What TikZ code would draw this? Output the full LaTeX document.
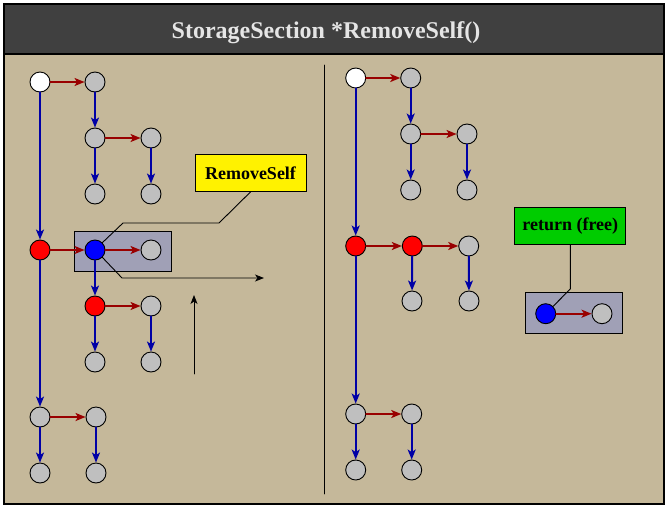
\documentclass[tikz,border=0pt]{standalone}
\usepackage{fontspec}
\setmainfont{Liberation Serif}
\usepackage{tikz}
\usetikzlibrary{arrows.meta}
\usepackage{xcolor}
\definecolor{sand}{RGB}{197,184,154}
\definecolor{slate}{RGB}{64,64,64}
\definecolor{lilac}{RGB}{160,160,182}

\begin{document}
\begin{tikzpicture}[x=1pt,y=-1pt,line cap=round,
  cell/.style={circle,draw,line width=0.9pt,fill=lightgray,minimum size=20pt,inner sep=0pt},
  ptr/.style={line width=2pt,-{Stealth[length=10pt,width=8pt,inset=2.5pt]}},
  nxt/.style={ptr,red!60!black},
  dwn/.style={ptr,blue!65!black},
  tag/.style={draw,line width=0.9pt,minimum width=111pt,minimum height=37pt,inner sep=0pt,font=\bfseries\fontsize{18}{20}\selectfont},
  hbox/.style={draw,line width=0.9pt,fill=lilac}]
\useasboundingbox (0,0) rectangle (669,509);
\fill[sand] (4,54) rectangle (664,504);
\fill[slate] (4,4) rectangle (664,54);
\draw[line width=1.3pt] (4,4) rectangle (664,504);
\draw[line width=1.3pt] (4,54) -- (664,54);
\node[text=white!90!black,font=\bfseries\fontsize{24}{28}\selectfont] (title) at (326,33) {StorageSection *RemoveSelf()};
\draw[line width=0.9pt] (324,65) -- (324,494);
\draw[hbox] (74,231) rectangle (171,271);
\draw[hbox] (525,292) rectangle (622,333);
% left
\node[cell,fill=white] (l0) at (40,82) {};
\node[cell] (l1) at (95,82) {};
\node[cell] (l2) at (95,138) {};
\node[cell] (l3) at (151,138) {};
\node[cell] (l4) at (95,194) {};
\node[cell] (l5) at (151,194) {};
\node[cell,fill=red] (l6) at (40,250) {};
\node[cell,fill=blue] (l7) at (95,250) {};
\node[cell] (l8) at (151,250) {};
\node[cell,fill=red] (l9) at (95,306) {};
\node[cell] (l10) at (151,306) {};
\node[cell] (l11) at (95,362) {};
\node[cell] (l12) at (151,362) {};
\node[cell] (l13) at (40,417) {};
\node[cell] (l14) at (96,417) {};
\node[cell] (l15) at (40,473) {};
\node[cell] (l16) at (96,473) {};
\draw[nxt] (l0) -- (l1);
\draw[nxt] (l2) -- (l3);
\draw[nxt] (l6) -- (l7);
\draw[nxt] (l7) -- (l8);
\draw[nxt] (l9) -- (l10);
\draw[nxt] (l13) -- (l14);
\draw[dwn] (l0) -- (l6);
\draw[dwn] (l6) -- (l13);
\draw[dwn] (l13) -- (l15);
\draw[dwn] (l1) -- (l2);
\draw[dwn] (l2) -- (l4);
\draw[dwn] (l3) -- (l5);
\draw[dwn] (l7) -- (l9);
\draw[dwn] (l9) -- (l11);
\draw[dwn] (l10) -- (l12);
\draw[dwn] (l14) -- (l16);
\node[tag,fill=yellow] (rs) at (250.5,173) {RemoveSelf};
\coordinate (k1) at (219,223);
\coordinate (k2) at (123,223);
\draw[line width=0.9pt] (rs.south) -- (k1) -- (k2) -- (l7.north east);
\coordinate (m1) at (122,278);
\coordinate (m2) at (264,278);
\draw[line width=0.9pt,-{Stealth[length=9pt,width=7pt,inset=2.5pt]}] (l7.south east) -- (m1) -- (m2);
\coordinate (u1) at (194,374);
\coordinate (u2) at (194,295);
\draw[line width=0.9pt,-{Stealth[length=9pt,width=7pt,inset=2.5pt]}] (u1) -- (u2);
% right
\node[cell,fill=white] (r0) at (355.7,78) {};
\node[cell] (r1) at (410.7,78) {};
\node[cell] (r2) at (410.7,134) {};
\node[cell] (r3) at (467,134) {};
\node[cell] (r4) at (410.7,190) {};
\node[cell] (r5) at (467,190) {};
\node[cell,fill=red] (r6) at (355.7,246) {};
\node[cell,fill=red] (r7) at (412.3,246) {};
\node[cell] (r8) at (468.7,246) {};
\node[cell] (r9) at (412,301) {};
\node[cell] (r10) at (469,301) {};
\node[cell] (r11) at (355.7,414) {};
\node[cell] (r12) at (411.7,414) {};
\node[cell] (r13) at (355.7,470) {};
\node[cell] (r14) at (411.7,470) {};
\node[cell,fill=blue] (f0) at (545.7,313.7) {};
\node[cell] (f1) at (602,313.7) {};
\draw[nxt] (r0) -- (r1);
\draw[nxt] (r2) -- (r3);
\draw[nxt] (r6) -- (r7);
\draw[nxt] (r7) -- (r8);
\draw[nxt] (r11) -- (r12);
\draw[nxt] (f0) -- (f1);
\draw[dwn] (r0) -- (r6);
\draw[dwn] (r6) -- (r11);
\draw[dwn] (r11) -- (r13);
\draw[dwn] (r1) -- (r2);
\draw[dwn] (r2) -- (r4);
\draw[dwn] (r3) -- (r5);
\draw[dwn] (r7) -- (r9);
\draw[dwn] (r8) -- (r10);
\draw[dwn] (r12) -- (r14);
\node[tag,fill=green!80!black] (rf) at (570.3,226) {return (free)};
\coordinate (n1) at (570.3,289);
\draw[line width=0.9pt] (rf.south) -- (n1) -- (f0.north east);
\end{tikzpicture}
\end{document}
